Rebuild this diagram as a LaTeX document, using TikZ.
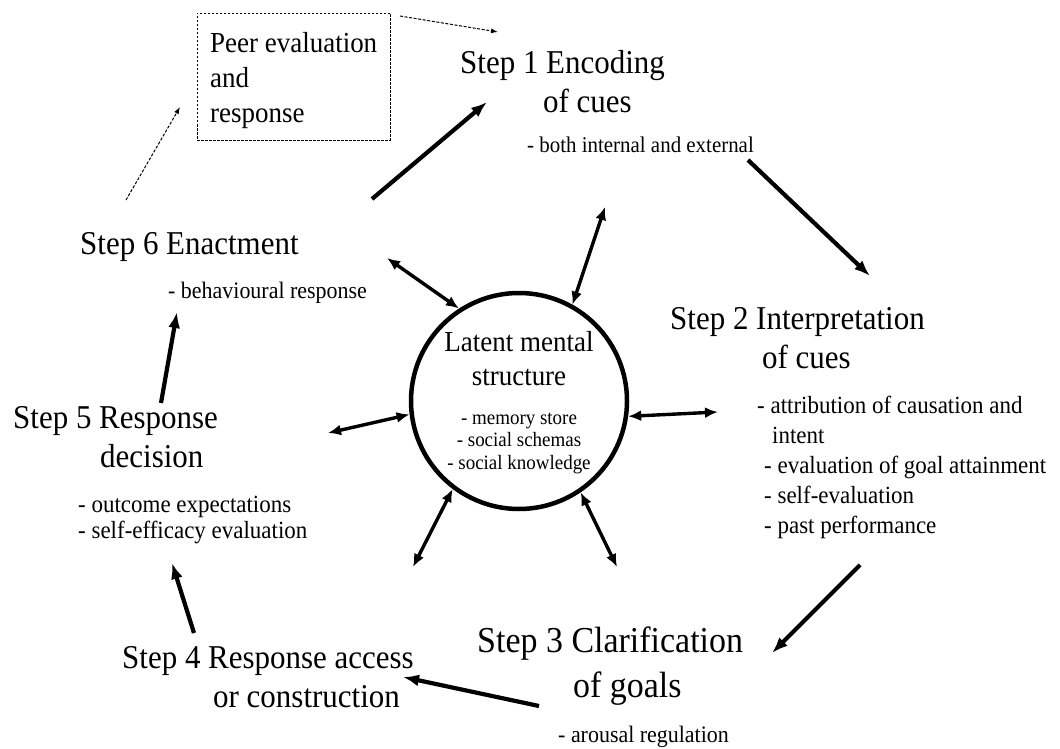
\documentclass[tikz,border=0pt]{standalone}
\usepackage{fontspec}
\setmainfont{Liberation Serif}[FakeStretch=0.93]
\usetikzlibrary{arrows.meta}
\newcommand{\stepsz}{\fontsize{33.3}{39}\selectfont}
\newcommand{\subsz}{\fontsize{23.6}{26}\selectfont}

\begin{document}
\begin{tikzpicture}[x=1pt,y=-1pt,
		steptext/.style={anchor=west,inner sep=0pt,align=left,font=\stepsz},
		subtext/.style={anchor=west,inner sep=0pt,align=left,font=\subsz},
		flow/.style={line width=4.2pt,-{Latex[length=16pt,width=12pt]}},
		link/.style={line width=3.4pt,{Latex[length=13pt,width=11pt]}-{Latex[length=13pt,width=11pt]}},
		peer/.style={dash pattern=on 3pt off 1.6pt,line width=1pt,-{Latex[length=7pt,width=5pt]}}]
		\useasboundingbox (0,0) rectangle (1060,749);
		%
		% centre
		\node[circle,draw,line width=4.5pt,minimum size=216pt] (LMS) at (519,401) {};
		\node[align=center,inner sep=0pt,font=\fontsize{29}{34}\selectfont] (LMT) at (519,359) {Latent mental\\structure};
		\node[align=center,inner sep=0pt,font=\fontsize{20.4}{22.5}\selectfont] (LMI) at (519,443) {- memory store\\- social schemas\\- social knowledge};
		%
		% steps
		\node[steptext] (S1) at (460,82) {Step 1 Encoding\\\hspace*{83pt}of cues};
		\node[subtext,font=\fontsize{22.5}{26}\selectfont] (D1) at (527,145) {- both internal and external};
		\node[steptext] (S2) at (670,338) {Step 2 Interpretation\\\hspace*{92pt}of cues};
		\node[subtext,font=\fontsize{24.7}{30}\selectfont] (D2) at (757,467) {- attribution of causation and\\\hspace*{15pt}intent\\\hspace*{7pt}- evaluation of goal attainment\\\hspace*{7pt}- self-evaluation\\\hspace*{7pt}- past performance};
		\node[steptext,font=\fontsize{36.5}{45}\selectfont] (S3) at (477,666) {Step 3 Clarification\\\hspace*{96pt}of goals};
		\node[subtext] (D3) at (558,737) {- arousal regulation};
		\node[steptext] (S4) at (122,677) {Step 4 Response access\\\hspace*{91pt}or construction};
		\node[steptext] (S5) at (13,437) {Step 5 Response\\\hspace*{87pt}decision};
		\node[subtext,font=\fontsize{24.7}{26}\selectfont] (D5) at (78,520) {- outcome expectations\\- self-efficacy evaluation};
		\node[steptext] (S6) at (80,247) {Step 6 Enactment};
		\node[subtext] (D6) at (168,293) {- behavioural response};
		%
		% peer
		\node[draw,dash pattern=on 2.5pt off 1.5pt,line width=0.8pt,minimum width=193pt,minimum height=127pt] (P) at (293.5,76.5) {};
		\node[anchor=west,inner sep=0pt,align=left,font=\fontsize{29}{35}\selectfont] (PT) at (210,81) {Peer evaluation\\and\\response};
		%
		% arrow ends
		\coordinate (a61) at (372,199);
		\coordinate (b61) at (487,102);
		\coordinate (a12) at (748,160);
		\coordinate (b12) at (870,276);
		\coordinate (a23) at (860,565);
		\coordinate (b23) at (772,653);
		\coordinate (a34) at (539,706);
		\coordinate (b34) at (403,677);
		\coordinate (a45) at (194,633);
		\coordinate (b45) at (172,563);
		\coordinate (a56) at (161,403);
		\coordinate (b56) at (177,312);
		%
		\coordinate (l1) at (605,207);
		\coordinate (l2) at (718,412);
		\coordinate (l3) at (617,567);
		\coordinate (l4) at (413,567);
		\coordinate (l5) at (328,433);
		\coordinate (l6) at (387,258);
		%
		\coordinate (p1) at (400,16);
		\coordinate (p2) at (498,32);
		\coordinate (p3) at (126,200);
		\coordinate (p4) at (180,107);
		%
		% cycle
		\draw[flow] (a61) -- (b61);
		\draw[flow] (a12) -- (b12);
		\draw[flow] (a23) -- (b23);
		\draw[flow] (a34) -- (b34);
		\draw[flow] (a45) -- (b45);
		\draw[flow] (a56) -- (b56);
		%
		% links to centre
		\draw[link] (LMS.61.5) -- (l1);
		\draw[link] (LMS.-8) -- (l2);
		\draw[link] (LMS.-56) -- (l3);
		\draw[link] (LMS.233.7) -- (l4);
		\draw[link] (LMS.187) -- (l5);
		\draw[link] (LMS.123.8) -- (l6);
		%
		% feedback
		\draw[peer] (p1) -- (p2);
		\draw[peer] (p3) -- (p4);
	\end{tikzpicture}
\end{document}
